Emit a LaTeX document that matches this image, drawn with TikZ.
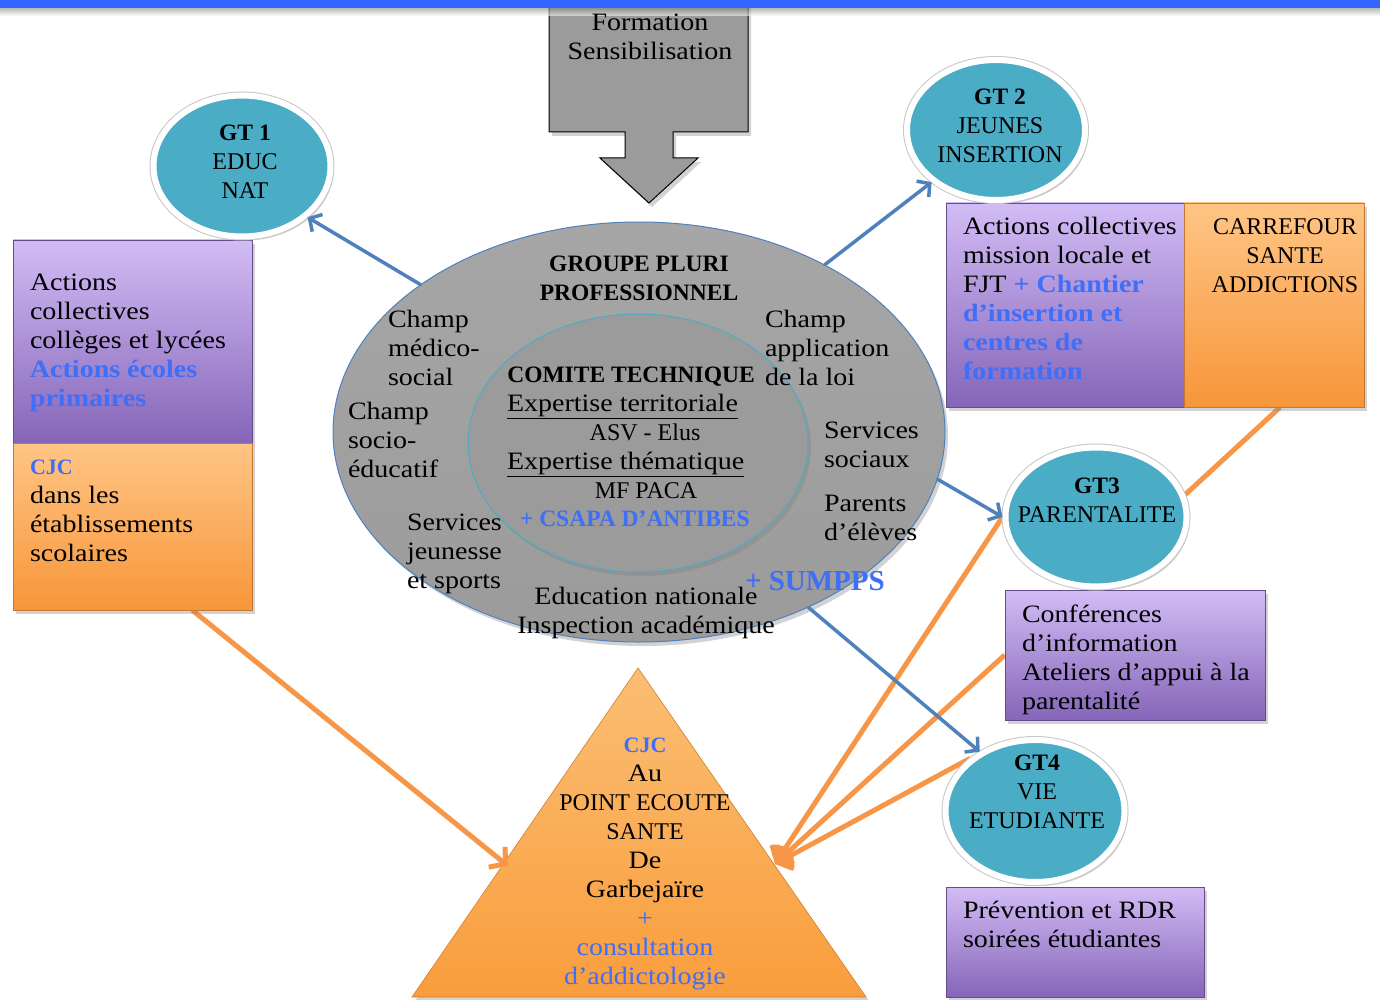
\documentclass[tikz,border=0pt]{standalone}
\usepackage{fontspec}
\setmainfont{Liberation Serif}
\newfontfamily\rf{Liberation Serif}[FakeStretch=1.12]
\newfontfamily\cf{Liberation Serif}
\usetikzlibrary{shapes.geometric,arrows.meta,shadows}
\pgfdeclarelayer{back}
\pgfdeclarelayer{mid}
\pgfsetlayers{back,mid,main}
\definecolor{topblue}{HTML}{3366FF}
\definecolor{tealc}{HTML}{4BACC6}
\definecolor{arrblue}{HTML}{4F81BD}
\definecolor{orng}{HTML}{F79646}
\definecolor{purT}{HTML}{D2BCF5}
\definecolor{purB}{HTML}{8565B8}
\definecolor{orT}{HTML}{FFC585}
\definecolor{orB}{HTML}{F7963A}
\definecolor{tblue}{HTML}{3F6EF7}
\definecolor{grayc}{HTML}{9B9B9B}
\definecolor{grayT}{HTML}{A6A6A6}
\definecolor{triT}{HTML}{FBBE74}
\definecolor{triB}{HTML}{F99D3C}
\newcommand\fLR{\rf\fontsize{25}{29}\selectfont}
\newcommand\fLB{\rf\bfseries\fontsize{25}{29}\selectfont}
\newcommand\fUC{\cf\fontsize{24}{29}\selectfont}
\newcommand\fUB{\cf\bfseries\fontsize{23.5}{29}\selectfont}
\newcommand\fCJC{\cf\bfseries\fontsize{22}{29}\selectfont}
\newcommand\fSU{\cf\bfseries\fontsize{29}{29}\selectfont}
\begin{document}
\begin{tikzpicture}[x=1pt,y=-1pt,
  txt/.style={inner sep=0pt, outer sep=0pt, align=left, anchor=base west, font=\fLR},
  ctxt/.style={txt, align=center, anchor=base},
  shad/.style={drop shadow={shadow xshift=3pt, shadow yshift=-4pt, opacity=.35}},
  gt/.style={ellipse, draw=white, line width=6pt, fill=tealc, inner sep=0pt, shad,
    preaction={draw=black!22, line width=8pt}},
  pbox/.style={rectangle, inner sep=0pt, top color=purT, bottom color=purB, draw=purB!75!black, line width=.6pt, shad},
  obox/.style={rectangle, inner sep=0pt, top color=orT, bottom color=orB, draw=orB!80!black, line width=.6pt, shad},
  barrow/.style={draw=arrblue, line width=3.5pt, line cap=round, -{Straight Barb[length=9pt,width=20pt]}},
  oarrow/.style={draw=orng, line width=5pt, -{Straight Barb[length=11pt,width=26pt]}},
  oline/.style={draw=orng, line width=5pt}
]
\useasboundingbox (0,0) rectangle (1380,1000);
\begin{pgfonlayer}{back}
\fill[white] (0,0) rectangle (1380,1000);
\shade[top color=triT, bottom color=triB, draw=orB!85!black, line width=.6pt, shad]
  (638,668) -- (866,997) -- (412,997) -- cycle;
\end{pgfonlayer}

% down arrow (formation)
\filldraw[fill=grayc, draw=black, line width=1pt, shad]
  (549,4) -- (748,4) -- (748,132) -- (673,132) -- (673,158) -- (698,158)
  -- (649,203) -- (600,158) -- (625,158) -- (625,132) -- (549,132) -- cycle;
\shade[top color=black!45, bottom color=white, opacity=.6] (0,8) rectangle (1380,16);
\fill[topblue] (0,0) rectangle (1380,8);
\node[ctxt] (formation) at (650,60) {Formation\\Sensibilisation};

% triangle
\coordinate (tl) at (508,866);
\coordinate (tr) at (775,864);
\node[ctxt] (trit) at (645,984) {{\fCJC\color{tblue}CJC}\\Au\\{\fUC POINT ECOUTE}\\{\fUC SANTE}\\De\\Garbejaïre\\{\color{tblue}+}\\{\color{tblue}consultation}\\{\color{tblue}d’addictologie}};

% big ellipses
\node[ellipse, minimum width=612pt, minimum height=420pt, inner sep=0pt, draw=arrblue, line width=1pt, top color=grayT, bottom color=grayc, shad] (grp) at (639,432) {};
\node[ellipse, minimum width=340pt, minimum height=258pt, inner sep=0pt, draw=tealc, line width=1pt, fill=grayc, shad] (comite) at (638,443) {};

\node[ctxt, font=\fUB] (grpt) at (639,300) {GROUPE PLURI\\PROFESSIONNEL};
\node[txt] (cms) at (388,385) {Champ\\médico-\\social};
\node[txt] (cse) at (348,477) {Champ\\socio-\\éducatif};
\node[txt] (sjs) at (407,588) {Services\\jeunesse\\et sports};
\node[ctxt] (edn) at (646,633) {Education nationale\\Inspection académique};
\node[txt] (cal) at (765,385) {Champ\\application\\de la loi};
\node[txt] (ssx) at (824,467) {Services\\sociaux};
\node[txt] (ped) at (824,540) {Parents\\d’élèves};
\node[txt, font=\fSU] (sumpps) at (745,590) {\color{tblue}+ SUMPPS};
\node[ctxt, font=\fUB] (ct) at (631,382) {COMITE TECHNIQUE};
\node[txt] (et) at (507,411) {\underline{Expertise territoriale}};
\node[ctxt, font=\fUC] (asv) at (645,440) {ASV - Elus};
\node[txt] (eth) at (507,469) {\underline{Expertise thématique}};
\node[ctxt, font=\fUC] (mf) at (646,498) {MF PACA};
\node[txt, font=\fUB] (csapa) at (520,526) {\color{tblue}+ CSAPA D’ANTIBES};

% boxes
\node[pbox, minimum width=239pt, minimum height=203pt] (lpurp) at (132.5,341.5) {};
\node[obox, minimum width=239pt, minimum height=167pt] (lorange) at (132.5,526.5) {};
\node[pbox, minimum width=238pt, minimum height=204pt] (rpurp) at (1065,305) {};
\node[obox, minimum width=180pt, minimum height=204pt] (carref) at (1274,305) {};
\node[pbox, minimum width=260pt, minimum height=130pt] (conf) at (1135,655) {};
\node[pbox, minimum width=258pt, minimum height=110pt] (prev) at (1075,942) {};

\node[txt] (lpt) at (30,406) {Actions\\collectives\\collèges et lycées\\{\fLB\color{tblue}Actions écoles}\\{\fLB\color{tblue}primaires}};
\node[txt] (lot) at (30,561) {{\fCJC\color{tblue}CJC}\\dans les\\établissements\\scolaires};
\node[txt] (rpt) at (963,379) {Actions collectives\\mission locale et\\FJT {\fLB\color{tblue}+ Chantier}\\{\fLB\color{tblue}d’insertion et}\\{\fLB\color{tblue}centres de}\\{\fLB\color{tblue}formation}};
\node[ctxt, font=\fUC] (carrt) at (1285,292) {CARREFOUR\\SANTE\\ADDICTIONS};
\node[txt] (conft) at (1022,709) {Conférences\\d’information\\Ateliers d’appui à la\\parentalité};
\node[txt] (prevt) at (963,947) {Prévention et RDR\\soirées étudiantes};

% GT ellipses
\node[gt, minimum width=177pt, minimum height=141pt] (gt1) at (242,166) {};
\node[gt, minimum width=178pt, minimum height=140pt] (gt2) at (996,130) {};
\node[gt, minimum width=181pt, minimum height=139pt] (gt3) at (1096,517) {};
\node[gt, minimum width=179pt, minimum height=142pt] (gt4) at (1035,811) {};
\node[ctxt] (gt1t) at (245,199) {{\fUB GT 1}\\{\fUC EDUC}\\{\fUC NAT}};
\node[ctxt] (gt2t) at (1000,163) {{\fUB GT 2}\\{\fUC JEUNES}\\{\fUC INSERTION}};
\node[ctxt] (gt3t) at (1097,522) {{\fUB GT3}\\{\fUC PARENTALITE}};
\node[ctxt] (gt4t) at (1037,828) {{\fUB GT4}\\{\fUC VIE}\\{\fUC ETUDIANTE}};

% orange connectors (behind)
\begin{pgfonlayer}{mid}
\draw[oarrow] ([xshift=60pt]lorange.south) -- (tl);
\draw[oline] ([xshift=6pt]carref.south) -- (gt3.14);
\draw[oarrow] (gt3.west) -- (tr);
\draw[oarrow] (conf.west) -- (tr);
\draw[oarrow] (gt4.141) -- (tr);
\end{pgfonlayer}

% blue connectors
\draw[barrow] (grp.146) -- (gt1.-38);
\draw[barrow] (grp.42) -- (gt2.219);
\draw[barrow] (grp.-9) -- (gt3.west);
\draw[barrow] (grp.-46) -- (gt4.133);
\end{tikzpicture}
\end{document}
